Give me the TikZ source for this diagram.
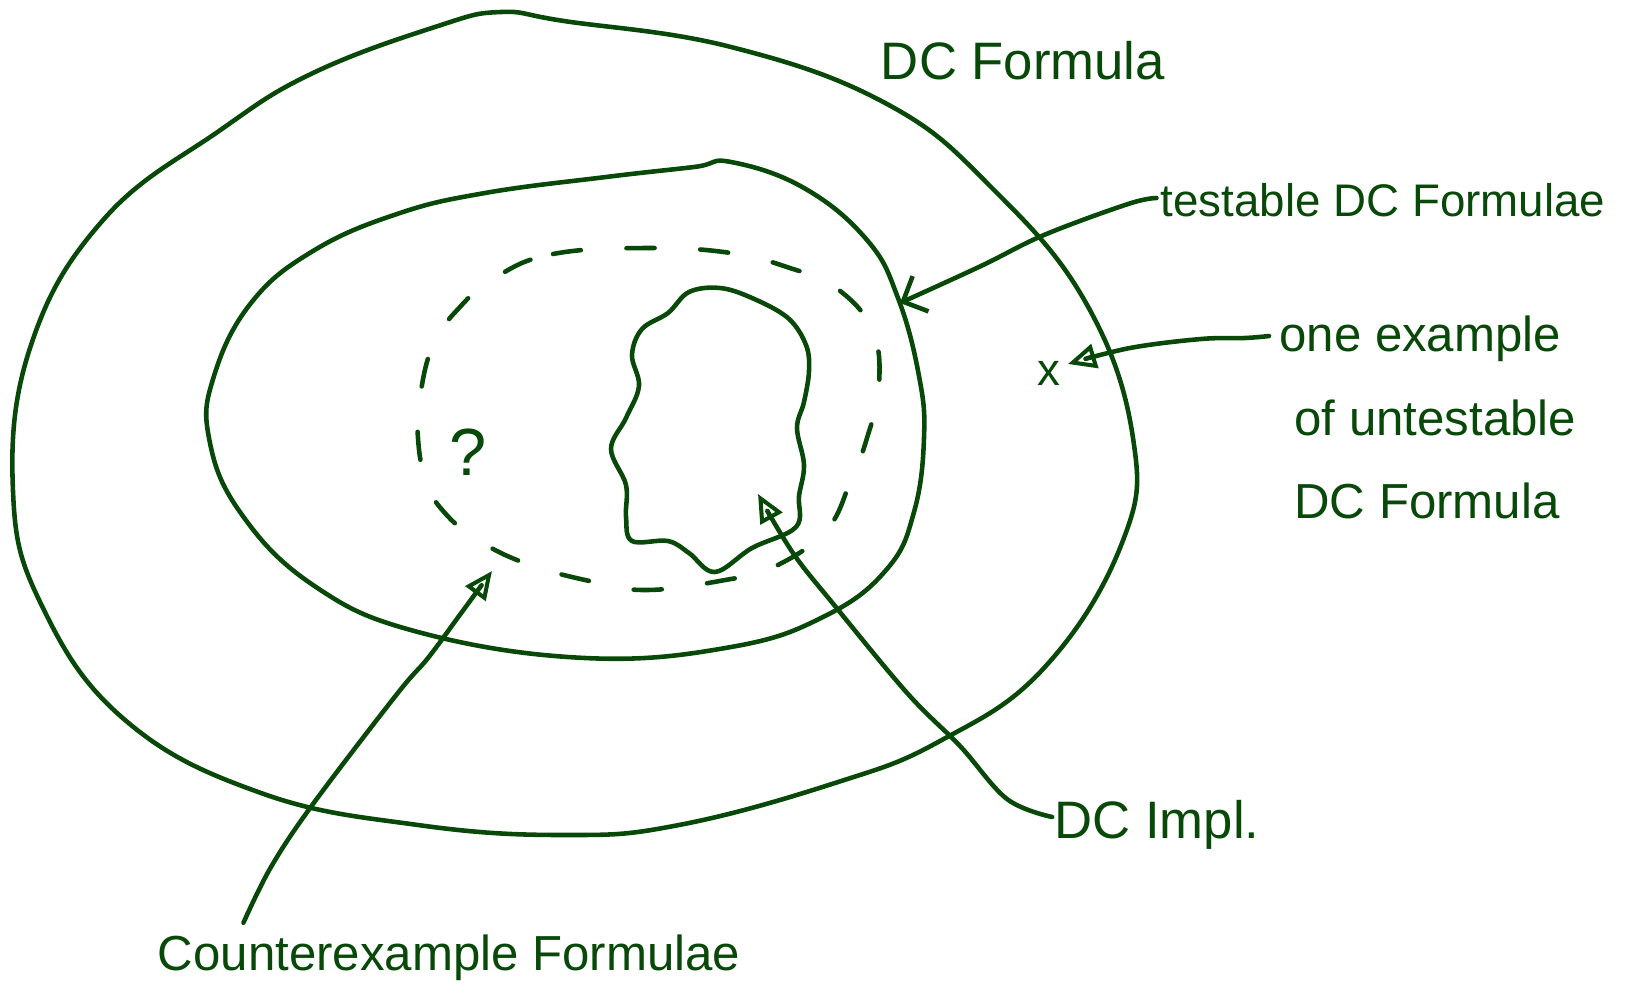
\documentclass[tikz,border=0pt]{standalone}
\usepackage{fontspec}
\setmainfont{Liberation Sans}
\usetikzlibrary{arrows.meta,calc}
\definecolor{ink}{RGB}{8,72,8}
\begin{document}
\begin{tikzpicture}[x=0.02cm,y=-0.02cm,
  pen/.style={draw=ink,line width=2.6pt,line cap=round,line join=round},
  lbl/.style={text=ink,inner sep=0pt,anchor=center},
  lblw/.style={text=ink,inner sep=0pt,anchor=west},
  openhead/.style={-{Triangle[open,length=16pt,width=14pt,line width=2.3pt]}},
  barbhead/.style={-{Straight Barb[length=11pt,width=22pt,line width=2.6pt]}}]
\useasboundingbox (0,0) rectangle (1637,1005);

% outer region: DC Formulae
\draw[pen] plot[smooth cycle, tension=0.7] coordinates {
 (564,21) (731,47) (887,104) (992,188) (1086,303) (1133,438) (1122,543)
 (1044,668) (940,741) (835,783) (679,825) (564,835) (418,825) (261,793)
 (125,720) (42,606) (13,491) (31,345) (104,219) (219,131) (313,73) (438,26) (501,12)};

% middle region: testable DC formulae
\draw[pen] plot[smooth cycle, tension=0.7] coordinates {
 (485,193) (606,177) (694,167) (731,162) (804,188) (867,240) (898,298)
 (919,376) (924,438) (914,512) (887,569) (825,616) (731,647) (585,658)
 (418,632) (313,585) (240,512) (209,438) (214,376) (251,303) (313,251) (397,214)};

% dashed region: counterexample formulae
\draw[pen, dash pattern=on 16pt off 26pt] plot[smooth cycle, tension=0.7] coordinates {
 (496,277) (553,254) (647,248) (731,253) (793,269) (835,287) (872,329)
 (879,386) (867,438) (851,480) (825,532) (770,569) (731,579) (647,590)
 (585,580) (522,562) (475,538) (444,512) (426,482) (418,438) (420,397)
 (433,345) (459,308)};

% inner blob: DC implementation
\draw[pen] plot[smooth cycle, tension=0.6] coordinates {
 (668,313) (689,292) (720,288) (752,298) (788,318) (806,345) (809,371)
 (804,402) (797,428) (804,465) (799,496) (796,527) (752,548) (715,572)
 (689,553) (668,541) (632,541) (626,517) (626,485) (611,449) (626,418)
 (639,386) (632,355) (642,329)};

% labels
\node[lbl] (dcf) at (1023,61) {\fontsize{30}{36}\selectfont DC Formula};
\node[lbl] (testable) at (1383,200) {\fontsize{26}{32}\selectfont testable DC Formulae};
\node[lblw] (one1) at (1279,339) {\fontsize{28}{34}\selectfont one example};
\node[lblw] (one2) at (1294,418) {\fontsize{28}{34}\selectfont of untestable};
\node[lblw] (one3) at (1294,501) {\fontsize{28}{34}\selectfont DC Formula};
\node[lbl] (impl) at (1157,825) {\fontsize{30}{36}\selectfont DC Impl.};
\node[lbl] (counter) at (449,958) {\fontsize{28}{34}\selectfont Counterexample Formulae};
\node[lbl] (quest) at (468,452) {\fontsize{38}{44}\selectfont ?};
\node[lbl] (xmark) at (1049,373) {\fontsize{26}{30}\selectfont x};

% arrow ends
\coordinate (tEnd) at (900,303);
\coordinate (xEnd) at (1068,364);
\coordinate (iEnd) at (758,494);
\coordinate (cEnd) at (492,571);

% connectors
\draw[pen, barbhead] plot[smooth, tension=0.6] coordinates {
 ($(testable.west)+(-4,-2)$) (1128,204) (1044,235) (981,266) (tEnd)};
\draw[pen, openhead] plot[smooth, tension=0.6] coordinates {
 ($(one1.west)+(-10,-3)$) (1245,338) (1201,339) (1130,348) (xEnd)};
\draw[pen, openhead] plot[smooth, tension=0.6] coordinates {
 ($(impl.west)+(-2,-8)$) (1007,799) (960,746) (908,694) (835,606) (793,553) (iEnd)};
\draw[pen, openhead] plot[smooth, tension=0.6] coordinates {
 ($(counter.north west)+(86,-12)$) (271,867) (313,804) (397,694) (428,658) (459,616) (cEnd)};
\end{tikzpicture}
\end{document}
